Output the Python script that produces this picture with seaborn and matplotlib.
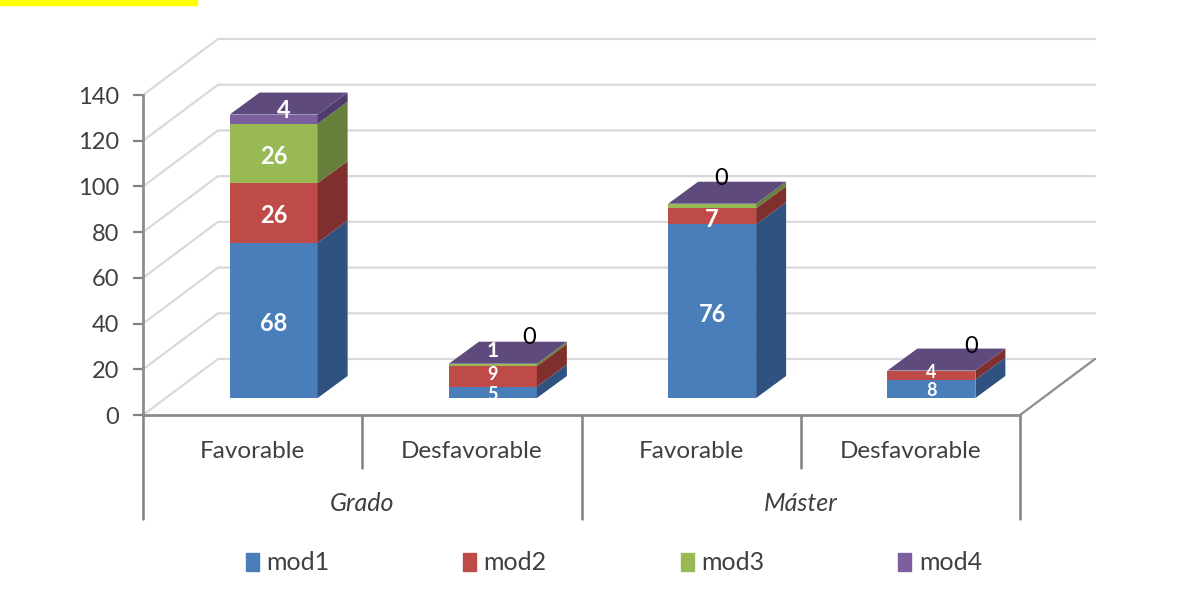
import matplotlib
matplotlib.use('Agg')
import matplotlib.pyplot as plt
import matplotlib.patches as mpatches
import numpy as np
import pandas as pd
import seaborn as sns

groups = ['Grado', 'Máster']
outcomes = ['Favorable', 'Desfavorable', 'Favorable', 'Desfavorable']
bar_ids = ['Grado-Fav', 'Grado-Des', 'Master-Fav', 'Master-Des']
mod1 = [68, 5, 76, 8]
mod2 = [26, 9, 7, 4]
mod3 = [26, 1, 2, 0]
mod4 = [4, 0, 0, 0]
y_ticks = [0, 20, 40, 60, 80, 100, 120, 140]

series = {'mod1': mod1, 'mod2': mod2, 'mod3': mod3, 'mod4': mod4}
front = {'mod1': '#4A7EBB', 'mod2': '#BE4B48', 'mod3': '#98B954', 'mod4': '#7D5FA0'}
side = {'mod1': '#2F5280', 'mod2': '#7F302E', 'mod3': '#667F3A', 'mod4': '#4F3B6E'}
top_color = '#5F4A7E'

W, H = 1177, 593
PX_X = 877 / 4      # pixels per category
PX_Y = 320 / 140    # pixels per value unit

sns.set_theme(style='white')
plt.rcParams['font.family'] = ['Lato', 'DejaVu Sans']
text_col = '#404040'

fig = plt.figure(figsize=(W / 100, H / 100), dpi=100, facecolor='white')
ax = fig.add_axes([143 / W, (H - 415) / H, 877 / W, 320 / H])
ax_bars = fig.add_axes([(143 + 21) / W, (H - 398) / H, 877 / W, 320 / H])
ax_bars.patch.set_alpha(0)

# back wall and floor
wall_dx, wall_dy = 75 / PX_X, 56 / PX_Y
for v in y_ticks:
    ax.plot([-0.5, -0.5 + wall_dx, 3.5 + wall_dx], [v, v + wall_dy, v + wall_dy],
            color='#D9D9D9', lw=1.6, clip_on=False, zorder=1)
ax.plot([3.5, 3.5 + wall_dx], [0, wall_dy], color='#8C8C8C', lw=1.6, clip_on=False)
ax.set_xlim(-0.5, 3.5)
ax.set_ylim(0, 140)
ax.set_yticks(y_ticks)
ax.set_xticks([])
ax.tick_params(axis='y', length=7, width=1.6, color='#808080', labelsize=17,
               labelcolor=text_col, pad=10, left=True)
sns.despine(ax=ax, top=True, right=True)
for s in ['left', 'bottom']:
    ax.spines[s].set_color('#8C8C8C')
    ax.spines[s].set_linewidth(2)

# two level category axis
for x, low in zip(np.arange(-0.5, 4), [-45.5, -23, -45.5, -23, -45.5]):
    ax.plot([x, x], [0, low], color='#808080', lw=1.8, clip_on=False)
for i, name in enumerate(outcomes):
    ax.text(i, -16, name, ha='center', va='center', fontsize=17.5, color=text_col)
for i, name in enumerate(groups):
    ax.text(0.5 + 2 * i, -38.6, name, ha='center', va='center', fontsize=18,
            style='italic', color=text_col)

# stacked front faces
bottoms = np.zeros(4)
width = 88 / PX_X
depth_x, depth_y = 30 / PX_X, 22 / PX_Y
handles = []
for name, vals in series.items():
    df = pd.DataFrame({'bar': bar_ids, 'value': vals})
    sns.barplot(data=df, x='bar', y='value', bottom=bottoms, width=width,
                color=front[name], saturation=1, linewidth=0, ax=ax_bars, zorder=3)
    for i, v in enumerate(vals):
        if v == 0:
            continue
        xr = i + width / 2
        ax_bars.fill([xr, xr + depth_x, xr + depth_x, xr],
                     [bottoms[i], bottoms[i] + depth_y, bottoms[i] + v + depth_y, bottoms[i] + v],
                     color=side[name], lw=0, clip_on=False, zorder=3)
    bottoms = bottoms + np.array(vals)
    handles.append(mpatches.Patch(color=front[name], label=name))

# top faces
for i, t in enumerate(bottoms):
    xl, xr = i - width / 2, i + width / 2
    ax_bars.fill([xl, xr, xr + depth_x, xl + depth_x], [t, t, t + depth_y, t + depth_y],
                 color=top_color, lw=0, clip_on=False, zorder=4)

# value labels, nudged in pixels like the original
nudge = {('mod4', 0): (10, 12), ('mod3', 1): (0, 17), ('mod4', 1): (36, 29),
         ('mod4', 2): (9, 28), ('mod4', 3): (40, 27),
         ('mod2', 1): (0, 2), ('mod1', 1): (0, -2), ('mod2', 3): (0, 3), ('mod1', 3): (0, -2)}
small = {('mod1', 1), ('mod2', 1), ('mod1', 3), ('mod2', 3)}
skip = {('mod3', 2), ('mod3', 3)}
bottoms = np.zeros(4)
for name, vals in series.items():
    for i, v in enumerate(vals):
        if (name, i) in skip:
            continue
        if v == 0 and (name, i) not in nudge:
            continue
        dx, dy = nudge.get((name, i), (0, 0))
        ax_bars.annotate(str(v), (i, bottoms[i] + v / 2),
                         xytext=(dx * 0.72, (dy - (0 if (name, i) in small else 3)) * 0.72),
                         textcoords='offset points', ha='center', va='center',
                         fontsize=13 if (name, i) in small else 15 if (name, i) == ('mod3', 1) else 17,
                         annotation_clip=False, zorder=6,
                         color='black' if v == 0 else 'white',
                         fontweight='normal' if v == 0 else 'bold')
    bottoms = bottoms + np.array(vals)

ax_bars.set_xlim(-0.5, 3.5)
ax_bars.set_ylim(0, 140)
ax_bars.axis('off')

fig.legend(handles=handles, ncol=4, frameon=False, fontsize=18, labelcolor=text_col,
           loc='center left', bbox_to_anchor=(238 / W, (H - 563) / H),
           handlelength=0.52, handleheight=0.7, handletextpad=0.3, columnspacing=5.36,
           borderpad=0.3, borderaxespad=0)

# yellow highlight strip cut off at the top of the page
fig.patches.append(mpatches.Rectangle((0, (H - 5) / H), 197 / W, 5 / H, color='#FFFF00',
                                      transform=fig.transFigure, figure=fig))

fig.savefig('out.png', dpi=100)
